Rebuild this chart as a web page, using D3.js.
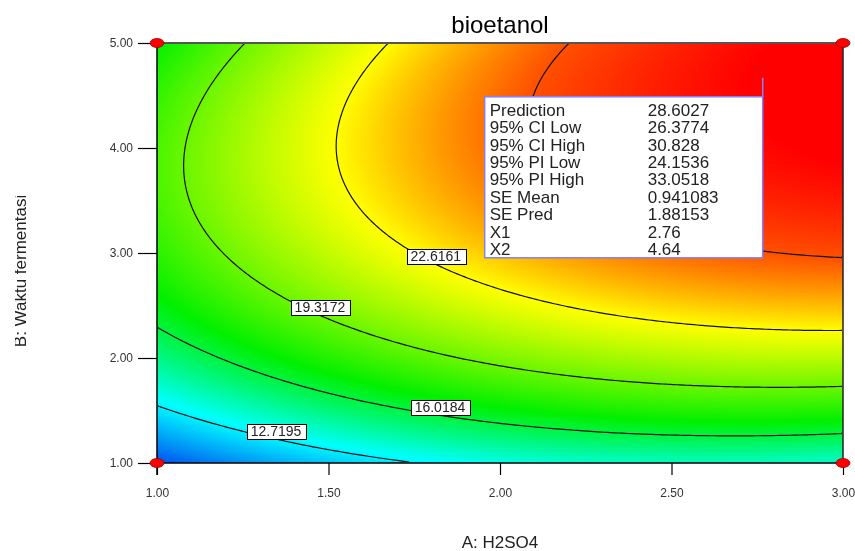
<!DOCTYPE html>
<html>
<head>
<meta charset="utf-8">
<script src="https://cdn.jsdelivr.net/npm/d3@7"></script>
<style>
body { margin: 0; background: #fff; }
#wrap { position: relative; width: 855px; height: 551px; }
#wrap canvas, #wrap svg { position: absolute; left: 0; top: 0; }
</style>
</head>
<body>
<div id="wrap"></div>
<script>
var w = 855, h = 551;
var x0 = 157, x1 = 843, y0 = 43, y1 = 463;

// quadratic response surface, coded units x = A - 2, y = (B - 3) / 2
// terms: 1, x, y, xy, x^2, y^2 (fitted to the contour lines of the picture)
var surfaceCoef = [23.7437, 4.0792, 5.7162, 1.9616, -1.7362, -4.6925];
var levels = [12.7195, 16.0184, 19.3172, 22.6161, 25.9149];
var labelA = [1.347, 1.825, 1.475, 1.813];

var xTicks = [1, 1.5, 2, 2.5, 3];
var yTicks = [1, 2, 3, 4, 5];
var designPoints = [[1, 1], [3, 1], [1, 5], [3, 5]];

var boxNames = ["Prediction", "95% CI Low", "95% CI High", "95% PI Low", "95% PI High", "SE Mean", "SE Pred", "X1", "X2"];
var boxValues = ["28.6027", "26.3774", "30.828", "24.1536", "33.0518", "0.941083", "1.88153", "2.76", "4.64"];
var flagPoint = [2.76, 4.64];

var colorVals = [9.5, 13, 17, 22.6, 25.9, 28.5];
var colorHex = ["#0050f0", "#00ffff", "#00f000", "#ffff00", "#ff5000", "#ff0000"];

function surface(a, b) {
  var c = surfaceCoef, x = a - 2, y = (b - 3) / 2;
  return c[0] + c[1] * x + c[2] * y + c[3] * x * y + c[4] * x * x + c[5] * y * y;
}

var xScale = d3.scaleLinear().domain([1, 3]).range([x0, x1]);
var yScale = d3.scaleLinear().domain([1, 5]).range([y1, y0]);
var color = d3.scaleLinear().domain(colorVals).range(colorHex).clamp(true);

// filled gradient on a canvas
var canvas = d3.select("#wrap").append("canvas").attr("width", w).attr("height", h);
var ctx = canvas.node().getContext("2d");
var pw = x1 - x0, ph = y1 - y0;
var img = ctx.createImageData(pw, ph);
for (var j = 0; j < ph; j++) {
  for (var i = 0; i < pw; i++) {
    var c = d3.rgb(color(surface(xScale.invert(x0 + i + 0.5), yScale.invert(y0 + j + 0.5))));
    var k = (j * pw + i) * 4;
    img.data[k] = c.r; img.data[k + 1] = c.g; img.data[k + 2] = c.b; img.data[k + 3] = 255;
  }
}
ctx.putImageData(img, x0, y0);

var svg = d3.select("#wrap").append("svg").attr("width", w).attr("height", h)
  .style("font-family", "Arial, 'Liberation Sans', sans-serif");

var defs = svg.append("defs");
defs.append("clipPath").attr("id", "inner").append("rect")
  .attr("x", x0 + 1).attr("y", y0 + 1).attr("width", pw - 2).attr("height", ph - 2);
defs.append("clipPath").attr("id", "ytitle").append("rect")
  .attr("x", 15).attr("y", 0).attr("width", 60).attr("height", h);

// contour lines
var nx = 200, ny = 200, grid = new Array(nx * ny);
for (var gj = 0; gj < ny; gj++) {
  for (var gi = 0; gi < nx; gi++) {
    grid[gj * nx + gi] = surface(1 + 2 * (gi + 0.5) / nx, 5 - 4 * (gj + 0.5) / ny);
  }
}
var gx = d3.scaleLinear().domain([0, nx]).range([x0, x1]);
var gy = d3.scaleLinear().domain([0, ny]).range([y0, y1]);
var path = d3.geoPath(d3.geoTransform({
  point: function(px, py) { this.stream.point(gx(px), gy(py)); }
}));
svg.append("g").attr("clip-path", "url(#inner)")
  .selectAll("path")
  .data(d3.contours().size([nx, ny]).thresholds(levels)(grid))
  .enter().append("path")
  .attr("d", path)
  .attr("fill", "none")
  .attr("stroke", "#111")
  .attr("stroke-width", 1.2);

// contour labels, sitting just above the line
function solveB(a, level) {
  var c = surfaceCoef;
  var yv = -(c[2] + c[3] * (a - 2)) / (2 * c[5]);
  var lo = 1, hi = Math.min(5, 3 + 2 * yv);
  for (var it = 0; it < 50; it++) {
    var mid = (lo + hi) / 2;
    if (surface(a, mid) < level) lo = mid; else hi = mid;
  }
  return (lo + hi) / 2;
}
var lab = svg.append("g");
labelA.forEach(function(a, i) {
  var cx = xScale(a), cy = yScale(solveB(a, levels[i])) - 8;
  var g = lab.append("g");
  var r = g.append("rect").attr("fill", "#fff").attr("stroke", "#000").attr("stroke-width", 1);
  var t = g.append("text").attr("x", cx).attr("y", cy + 5).attr("text-anchor", "middle")
    .attr("font-size", "14px").attr("fill", "#222").text(levels[i].toFixed(4));
  var tw = t.node().getComputedTextLength();
  r.attr("x", Math.round(cx - tw / 2 - 4) + 0.5).attr("y", Math.round(cy - 7.5) + 0.5)
    .attr("width", Math.round(tw + 8)).attr("height", 15);
});

// frame
svg.append("line").attr("x1", x0).attr("x2", x1).attr("y1", y0).attr("y2", y0)
  .attr("stroke", "#555").attr("stroke-width", 2);
svg.append("line").attr("x1", x1).attr("x2", x1).attr("y1", y0).attr("y2", y1)
  .attr("stroke", "#222").attr("stroke-width", 1.5);
svg.append("line").attr("x1", x0).attr("x2", x1).attr("y1", y1).attr("y2", y1)
  .attr("stroke", "#000").attr("stroke-width", 1.5);
svg.append("line").attr("x1", x0).attr("x2", x0).attr("y1", y0).attr("y2", y1 + 12)
  .attr("stroke", "#000").attr("stroke-width", 1.5);

// axes
var yAxis = d3.axisLeft(yScale).tickValues(yTicks).tickFormat(d3.format(".2f"))
  .tickSize(19).tickSizeOuter(0).tickPadding(5);
var gyA = svg.append("g").attr("transform", "translate(" + x0 + ",0)").call(yAxis);
var xAxis = d3.axisBottom(xScale).tickValues(xTicks).tickFormat(d3.format(".2f"))
  .tickSize(12).tickSizeOuter(0).tickPadding(13);
var gxA = svg.append("g").attr("transform", "translate(0," + y1 + ")").call(xAxis);
[gyA, gxA].forEach(function(g) {
  g.select(".domain").remove();
  g.selectAll("line").attr("stroke", "#000").attr("stroke-width", 1.2);
  g.selectAll("text").attr("font-size", "12px").attr("fill", "#333")
    .style("font-family", "Arial, 'Liberation Sans', sans-serif");
});

// design points
svg.append("g").selectAll("ellipse")
  .data(designPoints)
  .enter().append("ellipse")
  .attr("cx", function(d) { return xScale(d[0]); })
  .attr("cy", function(d) { return yScale(d[1]); })
  .attr("rx", 7).attr("ry", 4.5)
  .attr("fill", "#ff0000").attr("stroke", "#900").attr("stroke-width", 0.8);

// prediction flag
var fx = xScale(flagPoint[0]) + 2, fy = yScale(flagPoint[1]);
var boxW = 278, boxH = 161, boxTop = fy + 16;
svg.append("line").attr("x1", fx).attr("x2", fx).attr("y1", fy - 3).attr("y2", boxTop)
  .attr("stroke", "#8080ff").attr("stroke-width", 1.5);
svg.append("rect").attr("x", fx - boxW).attr("y", boxTop).attr("width", boxW).attr("height", boxH)
  .attr("fill", "#fff").attr("stroke", "#8080ff").attr("stroke-width", 1.5);
var bt = svg.append("g").attr("font-size", "17px").attr("fill", "#222");
boxNames.forEach(function(n, i) {
  var by = boxTop + 19 + i * 17.4;
  bt.append("text").attr("x", fx - boxW + 5).attr("y", by).text(n);
  bt.append("text").attr("x", fx - boxW + 163).attr("y", by).text(boxValues[i]);
});

// titles
svg.append("text").attr("x", 500).attr("y", 33).attr("text-anchor", "middle")
  .attr("font-size", "24px").attr("fill", "#000").text("bioetanol");
svg.append("text").attr("x", 500).attr("y", 548).attr("text-anchor", "middle")
  .attr("font-size", "17px").attr("fill", "#222").text("A: H2SO4");
svg.append("g").attr("clip-path", "url(#ytitle)").append("text")
  .attr("transform", "translate(26,271) rotate(-90)").attr("text-anchor", "middle")
  .attr("font-size", "17px").attr("fill", "#222").text("B: Waktu fermentasi");
</script>
</body>
</html>
